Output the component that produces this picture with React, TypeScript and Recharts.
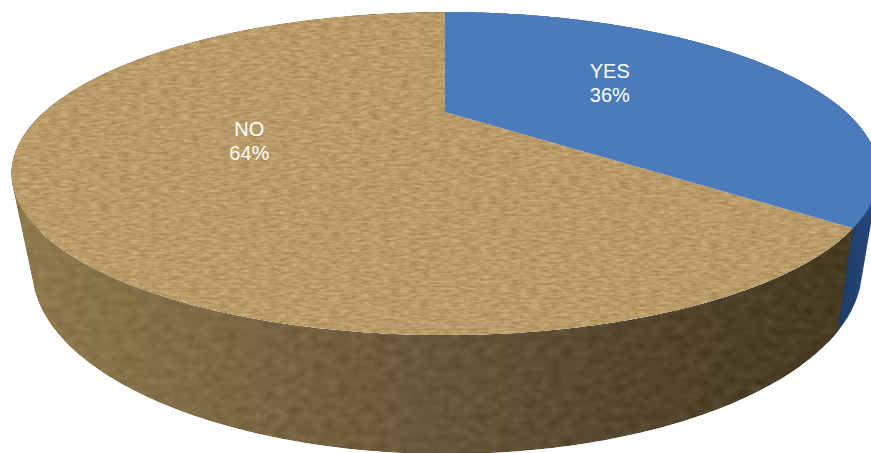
import { PieChart, Pie, Cell } from "recharts";

const answers = ["YES", "NO"];
const shares = [36, 64];
const topColors = ["#4b7bbb", "#b99b68"];
const sideColors = ["url(#blueSide)", "url(#tanSide)"];
const topFilters = [undefined, "url(#topGrain)"];
const sideFilters = [undefined, "url(#sideGrain)"];

// fraction of the radius where each slice's caption sits (across, along)
const captionSpots = [[0.494, 0.54], [0.5, 0.45]];

const chartData = answers.map((name, i) => ({ name, value: shares[i] }));

// perspective of the disc: far edge shrinks, near edge grows
const SHRINK = -0.381;
const DEPTH = 0.238;
const BASE = { cx: 447, cy: 269, rx: 415, ry: 185 };

type Pt = { x: number; y: number };

const project = (cx: number, cy: number, r: number, u: number, v: number): Pt => {
  const den = 1 + SHRINK * v;
  return { x: cx + (r * u) / den, y: (cy + r * DEPTH * v) / den };
};

// outline of the top face, used to carry a rim point down onto the base
const topEllipse = (cx: number, cy: number, r: number) => {
  const far = project(cx, cy, r, 0, -1).y;
  const near = project(cx, cy, r, 0, 1).y;
  const rx = r / Math.sqrt(1 - SHRINK * SHRINK);
  return { cx, cy: (far + near) / 2, rx, ry: (near - far) / 2 };
};

const rimPoints = (cx: number, cy: number, r: number, startAngle: number, endAngle: number) => {
  const pts: Pt[] = [];
  const steps = Math.max(2, Math.ceil(Math.abs(endAngle - startAngle) * 2));
  for (let i = 0; i <= steps; i++) {
    const a = ((startAngle + ((endAngle - startAngle) * i) / steps) * Math.PI) / 180;
    pts.push(project(cx, cy, r, Math.cos(a), -Math.sin(a)));
  }
  return pts;
};

const toPath = (pts: Pt[]) =>
  "M" + pts.map((p) => `${p.x.toFixed(1)},${p.y.toFixed(1)}`).join("L") + "Z";

const signedArea = (pts: Pt[]) =>
  pts.reduce((sum, p, i) => {
    const q = pts[(i + 1) % pts.length];
    return sum + p.x * q.y - q.x * p.y;
  }, 0);

const TopFace = (props: any) => {
  const { cx, cy, outerRadius, startAngle, endAngle, index } = props;
  const rim = rimPoints(cx, cy, outerRadius, startAngle, endAngle);
  return <path d={toPath([{ x: cx, y: cy }, ...rim])} fill={topColors[index]} filter={topFilters[index]} />;
};

const SideWall = (props: any) => {
  const { cx, cy, outerRadius, startAngle, endAngle, index } = props;
  // the blue wall runs a little under the tan one so no gap shows at the seam
  const end = index === 0 ? endAngle - 3 : endAngle;
  const rim = rimPoints(cx, cy, outerRadius, startAngle, end);
  const top = topEllipse(cx, cy, outerRadius);
  const base = rim.map((p) => ({
    x: BASE.cx + (BASE.rx * (p.x - top.cx)) / top.rx,
    y: BASE.cy + (BASE.ry * (p.y - top.cy)) / top.ry,
  }));
  // one quad per rim step, all wound the same way so overlaps at the fold stay filled
  let d = "";
  for (let i = 0; i < rim.length - 1; i++) {
    const quad = [rim[i], rim[i + 1], base[i + 1], base[i]];
    d += toPath(signedArea(quad) < 0 ? quad.reverse() : quad);
  }
  return <path d={d} fill={sideColors[index]} filter={sideFilters[index]} />;
};

const Caption = (props: any) => {
  const { cx, cy, outerRadius, midAngle, name, value, index } = props;
  const a = (midAngle * Math.PI) / 180;
  const [across, along] = captionSpots[index];
  const { x, y } = project(cx, cy, outerRadius, across * Math.cos(a), -along * Math.sin(a));
  return (
    <text x={x} y={y} textAnchor="middle" fill="#ffffff" fontFamily="'Liberation Sans', Arial, sans-serif" fontSize={20}>
      <tspan x={x} dy={-5}>{name}</tspan>
      <tspan x={x} dy={24}>{`${value}%`}</tspan>
    </text>
  );
};

export default function App() {
  return (
    <div style={{ position: "absolute", left: 0, top: 0, width: 871, height: 453, background: "#fff" }}>
      <PieChart width={871} height={453} margin={{ top: 0, right: 0, bottom: 0, left: 0 }}>
        <defs>
          <linearGradient id="tanSide" gradientUnits="userSpaceOnUse" x1="20" y1="0" x2="860" y2="0">
            <stop offset="0" stopColor="#8f7a4c" />
            <stop offset="0.4" stopColor="#6f5d3d" />
            <stop offset="0.7" stopColor="#574830" />
            <stop offset="1" stopColor="#463a22" />
          </linearGradient>
          <linearGradient id="blueSide" gradientUnits="userSpaceOnUse" x1="835" y1="0" x2="871" y2="0">
            <stop offset="0" stopColor="#1f3a63" />
            <stop offset="1" stopColor="#26477b" />
          </linearGradient>
          <filter id="topGrain" filterUnits="userSpaceOnUse" x="0" y="0" width="871" height="453" colorInterpolationFilters="sRGB">
            <feTurbulence type="fractalNoise" baseFrequency="0.1 0.42" numOctaves={3} seed={4} result="noise" />
            <feColorMatrix in="noise" type="matrix" values="1 0 0 0 0 1 0 0 0 0 1 0 0 0 0 0 0 0 0 1" result="grey" />
            <feGaussianBlur in="grey" stdDeviation="0.7" result="soft" />
            <feComposite in="SourceGraphic" in2="soft" operator="arithmetic" k1={0} k2={1} k3={0.22} k4={-0.11} result="mixed" />
            <feComposite in="mixed" in2="SourceAlpha" operator="in" />
          </filter>
          <filter id="sideGrain" filterUnits="userSpaceOnUse" x="0" y="0" width="871" height="453" colorInterpolationFilters="sRGB">
            <feTurbulence type="fractalNoise" baseFrequency="0.08 0.14" numOctaves={2} seed={9} result="noise" />
            <feColorMatrix in="noise" type="matrix" values="1 0 0 0 0 1 0 0 0 0 1 0 0 0 0 0 0 0 0 1" result="grey" />
            <feGaussianBlur in="grey" stdDeviation="0.8" result="soft" />
            <feComposite in="SourceGraphic" in2="soft" operator="arithmetic" k1={0} k2={1} k3={0.12} k4={-0.06} result="mixed" />
            <feComposite in="mixed" in2="SourceAlpha" operator="in" />
          </filter>
        </defs>
        <Pie
          data={chartData}
          dataKey="value"
          nameKey="name"
          cx={445}
          cy={112}
          outerRadius={401}
          startAngle={90}
          endAngle={-270}
          stroke="none"
          shape={SideWall}
          isAnimationActive={false}
        >
          {chartData.map((entry) => (
            <Cell key={`side-${entry.name}`} />
          ))}
        </Pie>
        <Pie
          data={chartData}
          dataKey="value"
          nameKey="name"
          cx={445}
          cy={112}
          outerRadius={401}
          startAngle={90}
          endAngle={-270}
          stroke="none"
          shape={TopFace}
          label={Caption}
          labelLine={false}
          isAnimationActive={false}
        >
          {chartData.map((entry) => (
            <Cell key={`top-${entry.name}`} />
          ))}
        </Pie>
      </PieChart>
    </div>
  );
}
